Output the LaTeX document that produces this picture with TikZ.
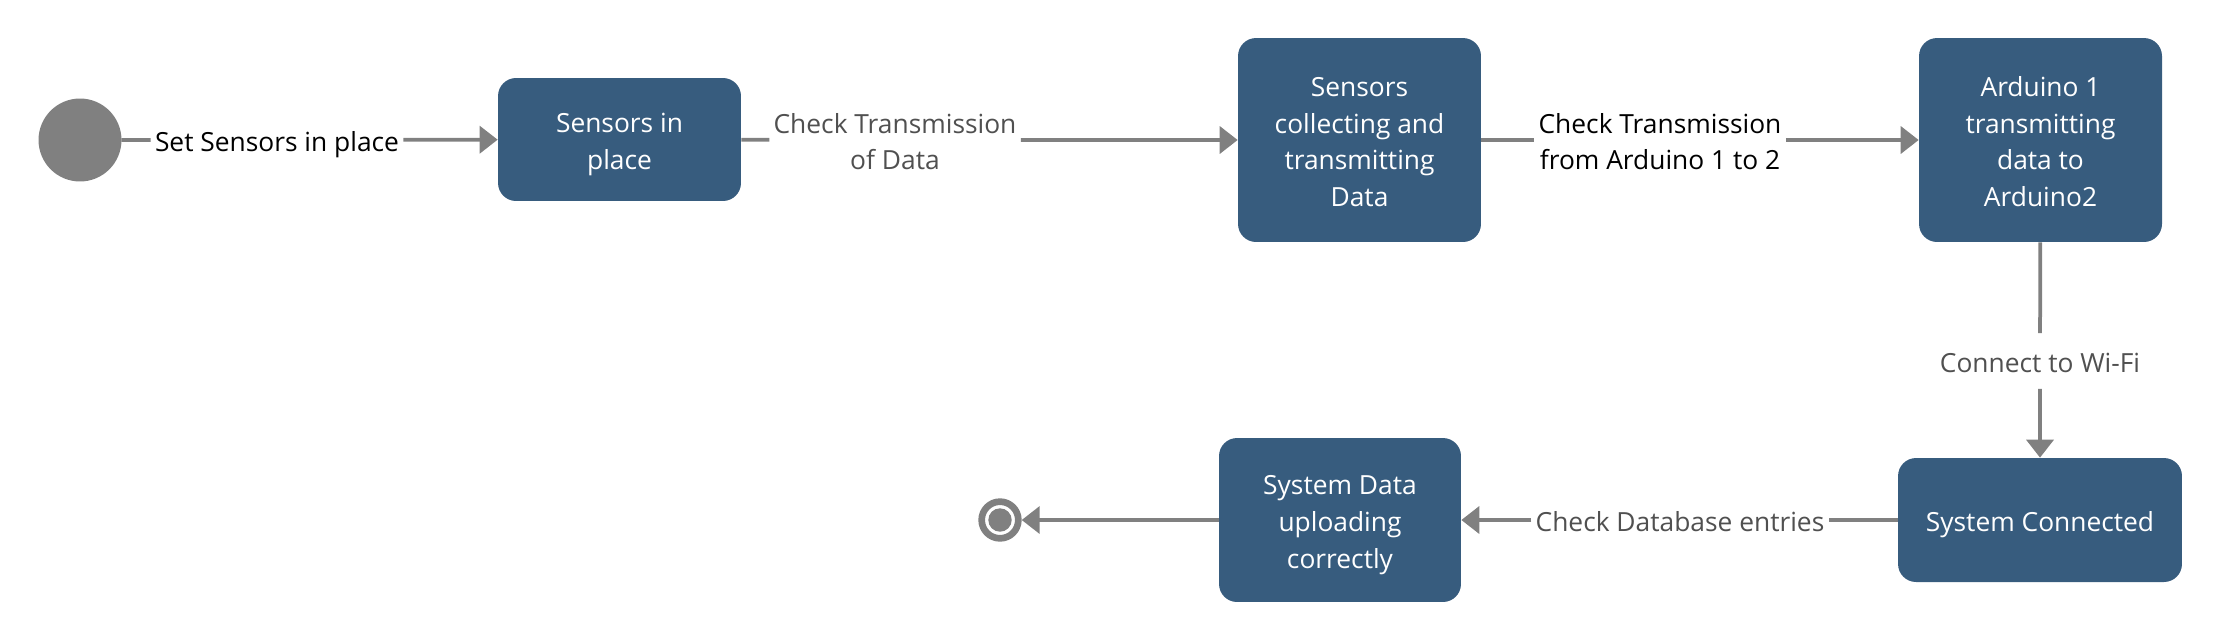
\documentclass[tikz,border=0pt]{standalone}
\usepackage{fontspec}
\setmainfont{Open Sans}
\usetikzlibrary{arrows.meta}
\definecolor{boxblue}{RGB}{55,92,126}
\definecolor{edgegray}{RGB}{128,128,128}
\definecolor{labelgray}{RGB}{80,80,80}
\newcommand{\tstrut}{\rule{0pt}{17pt}}
\begin{document}
\begin{tikzpicture}[x=0.02cm,y=-0.02cm]

\tikzset{struts/.style={font=\fontsize{15pt}{20.9pt}\selectfont,
  execute at begin node={\tstrut}, execute at end node={\rule[-4pt]{0pt}{4pt}}},
  state/.style={struts, rectangle, rounded corners=0.36cm, fill=boxblue, text=white, align=center,
  inner sep=0pt},
  trans/.style={struts, align=center, fill=white, inner xsep=0.08cm, inner ysep=0.02cm},
  edge/.style={edgegray, line width=0.075cm, -{Triangle[length=0.36cm, width=0.54cm]}}}

\useasboundingbox (0,0) rectangle (2221,640);

% states
\node[circle, fill=edgegray, minimum size=1.66cm, inner sep=0pt, outer sep=0pt] (start) at (80,140) {};
\node[state, minimum width=4.86cm, minimum height=2.46cm] (place) at (619.5,139.5) {\tstrut Sensors in\\place};
\node[state, minimum width=4.86cm, minimum height=4.08cm] (collect) at (1359.5,140) {\tstrut Sensors\\collecting and\\transmitting\\Data};
\node[state, minimum width=4.86cm, minimum height=4.08cm] (ardu) at (2040.5,140) {\tstrut Arduino 1\\transmitting\\data to\\Arduino2};
\node[state, minimum width=5.68cm, minimum height=2.48cm] (conn) at (2040,520) {System Connected};
\node[state, minimum width=4.84cm, minimum height=3.28cm] (upload) at (1340,520) {\tstrut System Data\\uploading\\correctly};
\node[circle, draw=edgegray, line width=0.134cm, minimum size=0.734cm, inner sep=0pt] (stop) at (1000,520) {};
\fill[edgegray] (stop.center) circle[radius=0.234cm];

% transition labels
\node[trans, text=black] (tSet) at (277,140) {Set Sensors in place};
\node[trans, text=labelgray] (tData) at (895,140) {\tstrut Check Transmission\\of Data};
\node[trans, text=black] (tArdu) at (1660,140) {\tstrut Check Transmission\\from Arduino 1 to 2};
\node[trans, text=labelgray, inner ysep=0.18cm] (tWifi) at (2040,361) {Connect to Wi-Fi};
\node[trans, text=labelgray] (tBase) at (1680,520) {Check Database entries};

% transitions
\foreach \a/\l/\b in {start/tSet/place, place/tData/collect, collect/tArdu/ardu,
  ardu/tWifi/conn, conn/tBase/upload}
{
\draw[edge] (\a) -- (\l) -- (\b);
}
\draw[edge] (upload) -- (stop);

\end{tikzpicture}
\end{document}
